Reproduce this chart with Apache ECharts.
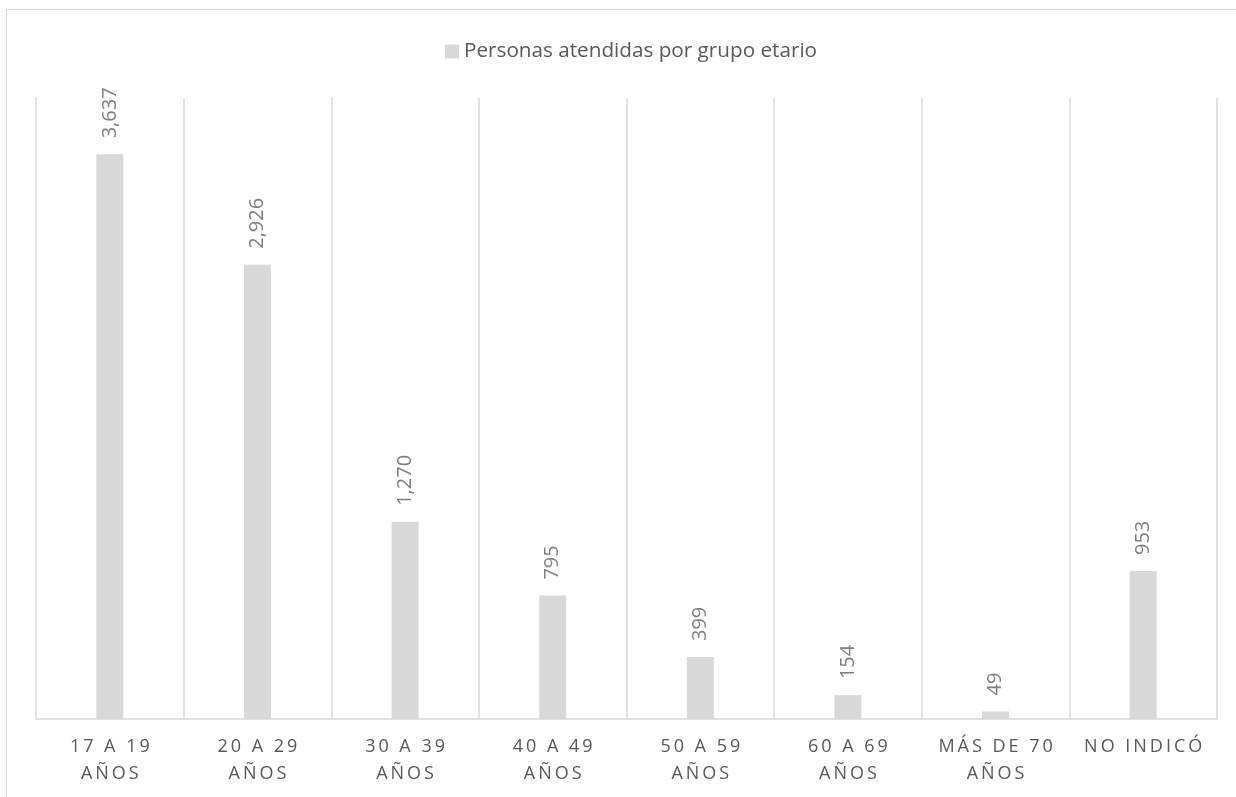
<!DOCTYPE html>
<html>
<head>
<meta charset="utf-8">
<script src="https://cdn.jsdelivr.net/npm/echarts@6/dist/echarts.min.js"></script>
<style>
  html, body { margin: 0; padding: 0; background: #fff; }
  #frame { position: absolute; left: 6px; top: 9px; width: 1300px; height: 900px; border: 1.5px solid #d9d9d9; box-sizing: border-box; }
  #chart { position: absolute; left: 0; top: 0; width: 1236px; height: 797px; }
</style>
</head>
<body>
<div id="frame"></div>
<div id="chart"></div>
<script>
const categories = ['17 A 19\nAÑOS', '20 A 29\nAÑOS', '30 A 39\nAÑOS', '40 A 49\nAÑOS', '50 A 59\nAÑOS', '60 A 69\nAÑOS', 'MÁS DE 70\nAÑOS', 'NO INDICÓ'];
const seriesName = 'Personas atendidas por grupo etario';
const values = [3637, 2926, 1270, 795, 399, 154, 49, 953];

function spaced(s) {
  return s.split('\n').map(line => line.split('').join('\u2009')).join('\n');
}

const FONT = '"Open Sans", "Noto Sans", sans-serif';
const chart = echarts.init(document.getElementById('chart'));
chart.setOption({
  backgroundColor: 'transparent',
  textStyle: { fontFamily: FONT },
  legend: {
    top: 36,
    left: 440,
    icon: 'rect',
    itemWidth: 14,
    itemHeight: 14,
    itemGap: 6,
    textStyle: { color: '#595959', fontSize: 20.7, fontFamily: FONT },
    data: [seriesName]
  },
  grid: { left: 36, right: 19, top: 98, bottom: 78 },
  xAxis: {
    type: 'category',
    data: categories,
    axisLine: { show: true, lineStyle: { color: '#d9d9d9', width: 1.5 } },
    axisTick: { show: false },
    splitLine: { show: true, lineStyle: { color: '#d9d9d9', width: 1.5 } },
    axisLabel: {
      interval: 0,
      color: '#595959',
      fontSize: 18,
      lineHeight: 27,
      margin: 14,
      fontFamily: FONT,
      formatter: spaced
    }
  },
  yAxis: {
    type: 'value',
    min: 0,
    max: 4000,
    show: false,
    splitLine: { show: false }
  },
  series: [{
    name: seriesName,
    type: 'bar',
    data: values,
    barWidth: 27,
    itemStyle: { color: '#d9d9d9' },
    label: {
      show: true,
      position: 'top',
      rotate: 90,
      align: 'left',
      verticalAlign: 'middle',
      distance: 16,
      color: '#7f7f7f',
      fontSize: 20,
      fontFamily: FONT,
      formatter: p => p.value.toLocaleString('en-US')
    }
  }]
});
</script>
</body>
</html>
